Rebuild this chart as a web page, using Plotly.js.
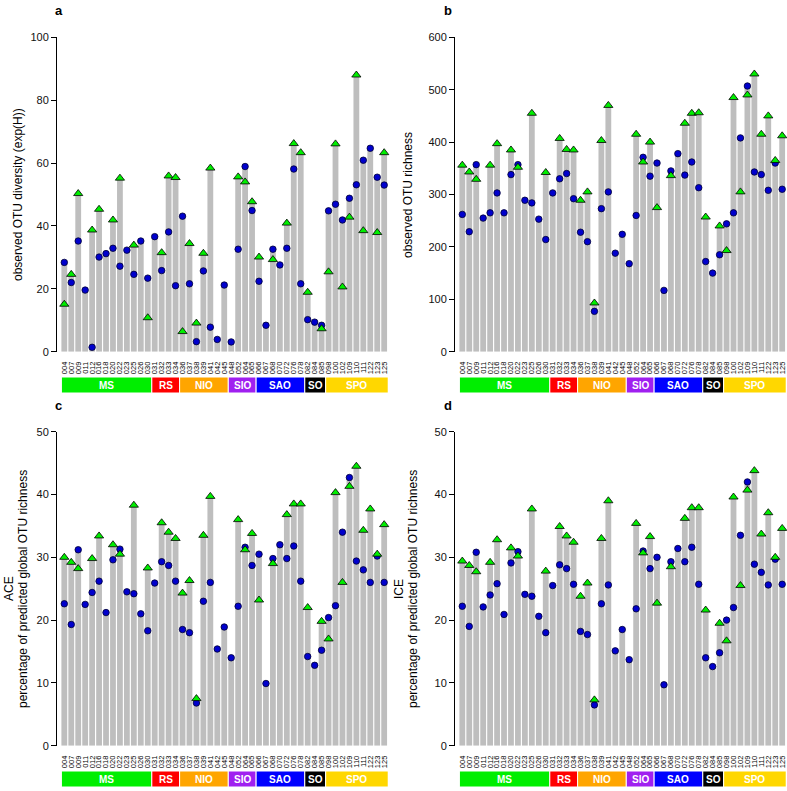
<!DOCTYPE html>
<html><head><meta charset="utf-8">
<script src="https://cdn.plot.ly/plotly-3.0.1.min.js"></script>
<style>body{margin:0;background:#fff}</style>
</head><body><div id="chart" style="width:787px;height:791px"></div>
<script>
// ---------------- data ----------------
const stations = ['004','007','009','011','012','016','018','020','022','023','025','026','030',
  '031','032','033','034',
  '036','037','038','039','041','042','045',
  '048','052','064','065',
  '066','067','068','070','072','076','078',
  '082','084','085',
  '098','100','102','109','110','111','122','123','125'];
const regionNames = ['MS','RS','NIO','SIO','SAO','SO','SPO'];
const regionCounts = [13,4,7,4,7,3,9];

// panel a: observed OTU diversity (exp(H))
const aBar = [28.4,24.6,50.3,19.6,38.7,45.3,31.2,41.9,55.2,32.3,33.9,35.2,23.4,36.6,31.5,55.9,55.4,43.1,34.4,9.1,31.3,58.4,3.9,21.2,3.1,55.6,58.9,47.7,30.1,8.4,32.6,27.6,40.9,66.2,63.3,18.9,9.4,8.4,44.8,66.1,41.9,48.8,88.0,60.9,64.7,55.5,63.3];
const aTri = [15.1,24.6,50.3,null,38.7,45.3,null,41.9,55.2,null,33.9,null,10.8,null,31.5,55.9,55.4,6.4,34.4,9.1,31.3,58.4,null,null,null,55.6,54.0,47.7,30.1,null,29.3,null,40.9,66.2,63.3,18.9,null,7.3,25.4,66.1,20.6,42.8,88.0,38.5,null,37.9,63.3];
const aDot = [28.4,22.0,35.2,19.6,1.4,30.1,31.2,32.9,27.2,32.3,24.6,35.2,23.4,36.6,25.8,38.1,21.0,43.1,21.6,3.2,25.7,7.8,3.9,21.2,3.1,32.6,58.9,44.9,22.4,8.4,32.6,27.6,32.9,58.1,21.6,10.2,9.4,8.4,44.8,46.9,41.9,48.8,53.1,60.9,64.7,55.5,53.0];

// panel b: observed OTU richness
const bBar = [356,343,357,255,356,397,265,385,357,289,455,253,342,303,407,386,385,289,305,93,403,470,188,224,168,415,371,400,360,117,345,378,436,455,456,257,150,240,244,485,408,507,530,415,450,365,412];
const bTri = [356,343,329,null,356,397,null,385,352,null,455,null,342,null,407,386,385,289,305,93,403,470,null,null,null,415,362,400,275,null,336,null,436,455,456,257,null,240,193,485,305,490,530,415,450,365,412];
const bDot = [262,229,357,255,265,303,265,338,357,289,284,253,214,303,330,340,292,228,210,77,273,305,188,224,168,260,371,335,360,117,345,378,337,362,313,172,150,185,244,265,408,507,343,338,308,360,310];

// panel c: ACE, percentage of predicted global OTU richness
const cBar = [30.0,29.2,31.2,22.5,29.8,33.4,21.2,32.0,31.3,24.5,38.3,21.0,28.3,25.9,35.5,34.0,33.0,24.3,26.3,7.5,33.5,39.7,15.4,18.9,14.0,36.0,31.6,33.8,30.5,9.9,29.8,32.0,36.8,38.5,38.5,22.0,12.8,19.8,20.4,40.3,34.0,42.7,44.5,34.3,37.7,30.5,35.2];
const cTri = [30.0,29.2,28.2,null,29.8,33.4,null,32.0,30.5,null,38.3,null,28.3,null,35.5,34.0,33.0,24.3,26.3,7.5,33.5,39.7,null,null,null,36.0,31.2,33.8,23.2,null,29.0,null,36.8,38.5,38.5,22.0,null,19.8,17.0,40.3,26.0,41.3,44.5,34.3,37.7,30.5,35.2];
const cDot = [22.6,19.3,31.2,22.5,24.4,26.2,21.2,29.6,31.3,24.5,24.2,21.0,18.3,25.9,29.3,28.7,26.2,18.5,18.0,6.8,23.0,26.0,15.4,18.9,14.0,22.2,31.6,28.7,30.5,9.9,29.8,32.0,29.8,31.8,26.2,14.2,12.8,15.2,20.4,22.3,34.0,42.7,29.4,28.0,26.0,30.2,26.0];

// panel d: ICE, percentage of predicted global OTU richness
const dBar = [29.4,28.7,30.8,22.1,29.2,32.8,20.9,31.5,30.9,24.1,37.7,20.6,27.8,25.5,34.9,33.4,32.4,23.8,25.9,7.3,33.0,39.0,15.1,18.5,13.7,35.4,31.0,33.3,30.0,9.7,29.3,31.4,36.2,37.9,37.9,21.6,12.6,19.5,20.0,39.6,33.5,42.0,43.8,33.7,37.1,30.0,34.6];
const dTri = [29.4,28.7,27.7,null,29.2,32.8,null,31.5,30.2,null,37.7,null,27.8,null,34.9,33.4,32.4,23.8,25.9,7.3,33.0,39.0,null,null,null,35.4,30.7,33.3,22.7,null,28.5,null,36.2,37.9,37.9,21.6,null,19.5,16.7,39.6,25.5,40.7,43.8,33.7,37.1,30.0,34.6];
const dDot = [22.2,19.0,30.8,22.1,24.0,25.8,20.9,29.1,30.9,24.1,23.8,20.6,18.0,25.5,28.8,28.2,25.7,18.2,17.7,6.5,22.6,25.6,15.1,18.5,13.7,21.8,31.0,28.2,30.0,9.7,29.3,31.4,29.3,31.6,25.7,14.0,12.6,14.8,20.0,22.0,33.5,42.0,28.9,27.6,25.6,29.7,25.7];

// ---------------- style / layout ----------------
const W = 787, H = 791;
const regionColors = ['#00EE00','#FF0000','#FFA500','#A020F0','#0000FF','#000000','#FFD700'];
const FONT = 'Liberation Sans, Arial, Helvetica, sans-serif';
const idx = stations.map((s,i)=>i);
const px = v => v / W;
const py = v => 1 - v / H;

const panels = [
  {bar:aBar, tri:aTri, dot:aDot, xl:57, xr:388, yt:37.3, yb:351.7, range:[0,100], tv:[0,20,40,60,80,100], boxT:377, boxB:393},
  {bar:bBar, tri:bTri, dot:bDot, xl:455, xr:786, yt:37.3, yb:351.7, range:[0,600], tv:[0,100,200,300,400,500,600], boxT:377, boxB:393},
  {bar:cBar, tri:cTri, dot:cDot, xl:57, xr:388, yt:431.7, yb:745.7, range:[0,50], tv:[0,10,20,30,40,50], boxT:771, boxB:787},
  {bar:dBar, tri:dTri, dot:dDot, xl:455, xr:786, yt:431.7, yb:745.7, range:[0,50], tv:[0,10,20,30,40,50], boxT:771, boxB:787}
];

const traces = [];
const layout = {
  width: W, height: H,
  margin: {l:0, r:0, t:0, b:0},
  paper_bgcolor: '#fff', plot_bgcolor: '#fff',
  showlegend: false,
  bargap: 0.167,
  font: {family: FONT, color: '#000'},
  shapes: [], annotations: []
};

panels.forEach((p, k) => {
  const n = k === 0 ? '' : String(k + 1);
  const xr = 'x' + n, yr = 'y' + n;
  traces.push({type:'bar', x: idx, y: p.bar, xaxis: xr, yaxis: yr,
    marker: {color: '#BEBEBE', line: {width: 0}}, hoverinfo: 'skip'});
  traces.push({type:'scatter', mode:'markers', x: idx, y: p.dot, xaxis: xr, yaxis: yr,
    marker: {symbol:'circle', size: 6.5, color: '#0000CC', line: {color: '#000033', width: 0.8}}, hoverinfo: 'skip', cliponaxis: false});
  traces.push({type:'scatter', mode:'markers', x: idx, y: p.tri, xaxis: xr, yaxis: yr,
    marker: {symbol:'triangle-up', size: 8, color: '#00EE00', line: {color: '#000', width: 0.8}}, hoverinfo: 'skip', cliponaxis: false});

  layout['xaxis' + n] = {
    domain: [px(p.xl), px(p.xr)], range: [-1.05, 46.55], anchor: yr,
    tickmode: 'array', tickvals: idx, ticktext: stations, tickangle: -90,
    tickfont: {size: 7.5, color: '#000', family: FONT},
    ticks: 'outside', ticklen: 6, tickcolor: 'rgba(0,0,0,0)',
    showline: false, showgrid: false, zeroline: false, fixedrange: true
  };
  layout['yaxis' + n] = {
    domain: [py(p.yb), py(p.yt)], range: p.range, anchor: xr,
    tickmode: 'array', tickvals: p.tv, ticks: 'outside', ticklen: 5, tickwidth: 1, tickcolor: '#000',
    tickfont: {size: 11, color: '#111', family: FONT},
    showline: true, linecolor: '#000', linewidth: 1,
    showgrid: false, zeroline: false, fixedrange: true
  };

  // region boxes
  let s = 0;
  regionNames.forEach((r, j) => {
    const e = s + regionCounts[j] - 1;
    layout.shapes.push({type:'rect', xref: xr, yref:'paper',
      x0: s - 0.417, x1: e + 0.583, y0: py(p.boxB), y1: py(p.boxT),
      fillcolor: regionColors[j], line: {color: '#fff', width: 1}, layer: 'above'});
    layout.annotations.push({xref: xr, yref: 'paper', x: (s + e) / 2 + 0.083, y: py((p.boxT + p.boxB) / 2),
      text: '<b>' + r + '</b>', showarrow: false, xanchor: 'center', yanchor: 'middle',
      font: {size: 10, color: '#fff', family: FONT}});
    s = e + 1;
  });
});

// panel letters
[['a',53,11],['b',442,11],['c',53,405],['d',442,405]].forEach(([t,x,y]) => {
  layout.annotations.push({xref:'paper', yref:'paper', x: px(x), y: py(y), text: '<b>' + t + '</b>',
    showarrow:false, xanchor:'left', yanchor:'middle', font:{size:13, color:'#000', family: FONT}});
});

// y-axis titles
const yTitles = [
  ['observed OTU diversity (exp(H))', 18, 195],
  ['observed OTU richness', 408, 195],
  ['ACE', 9, 589],
  ['percentage of predicted global OTU richness', 23, 589],
  ['ICE', 399, 589],
  ['percentage of predicted global OTU richness', 413, 589]
];
yTitles.forEach(([t,x,y]) => {
  layout.annotations.push({xref:'paper', yref:'paper', x: px(x), y: py(y), text: t, textangle: -90,
    showarrow:false, xanchor:'center', yanchor:'middle', font:{size:12, color:'#000', family: FONT}});
});

Plotly.newPlot('chart', traces, layout, {displayModeBar: false, staticPlot: true});
</script></body></html>
